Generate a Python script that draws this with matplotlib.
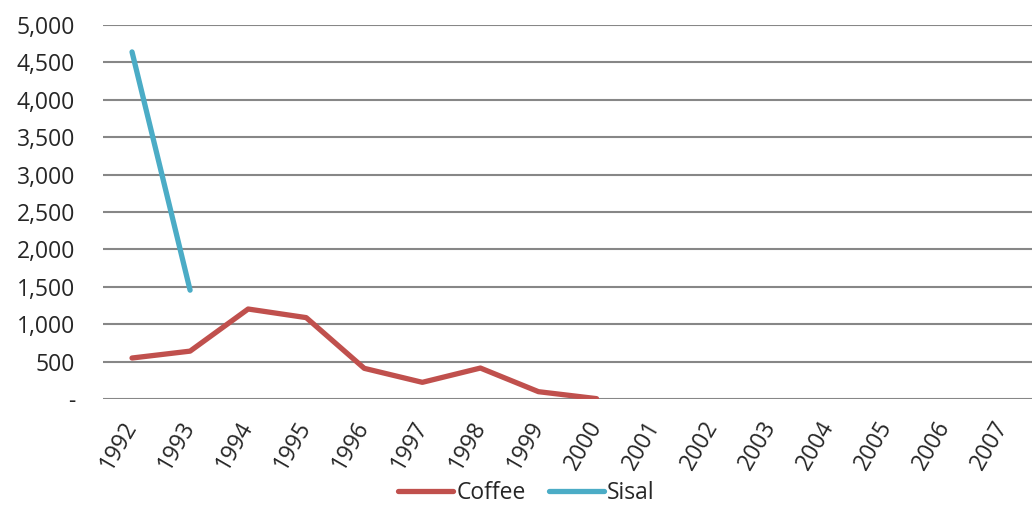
import matplotlib.pyplot as plt
from matplotlib.ticker import FuncFormatter

plt.rcParams['font.family'] = ['Open Sans', 'DejaVu Sans']

# === Data ===
years = [str(y) for y in range(1992, 2008)]
coffee = [548, 640, 1203, 1088, 410, 223, 414, 98, 5]
sisal = [4640, 1455]

fig = plt.figure(figsize=(10.32, 5.07), dpi=100)
ax = fig.add_axes([0.0998, 0.213, 0.9002, 0.7377])

ax.plot(range(len(coffee)), coffee, color='#C0504D', linewidth=3.8,
        solid_capstyle='round', solid_joinstyle='round', label='Coffee')
ax.plot(range(len(sisal)), sisal, color='#4BACC6', linewidth=3.8,
        solid_capstyle='round', solid_joinstyle='round', label='Sisal')

ax.set_xlim(-0.5, len(years) - 0.5)
ax.set_ylim(0, 5000)
ax.set_yticks(range(0, 5001, 500))
ax.yaxis.set_major_formatter(FuncFormatter(lambda v, p: '-' if v == 0 else f'{int(v):,}'))
ax.set_xticks(range(len(years)))
ax.set_xticklabels(years, rotation=60, ha='right', va='center', rotation_mode='anchor')

ax.grid(axis='y', color='#878787', linewidth=1.5)
ax.set_axisbelow(True)
for s in ax.spines.values():
    s.set_visible(False)
ax.tick_params(axis='both', length=0, labelsize=16.5, labelcolor='#262626')
ax.tick_params(axis='y', pad=20)
ax.tick_params(axis='x', pad=17)

fig.legend(*ax.get_legend_handles_labels(), loc='center', bbox_to_anchor=(0.51, 0.0276),
           ncol=2, frameon=False, fontsize=16.5, handlelength=2.4, handletextpad=0.15,
           columnspacing=1.0, labelcolor='#262626', borderaxespad=0, borderpad=0)

fig.savefig('out.png', dpi=100)
